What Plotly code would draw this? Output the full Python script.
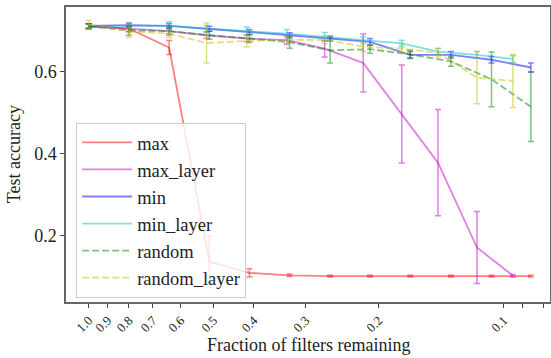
import plotly.graph_objects as go

# Fractions of filters remaining (x positions)
x_regular = [1.0, 0.8, 0.64, 0.512, 0.41, 0.328, 0.262, 0.21, 0.168, 0.134, 0.107, 0.086]
x_layer = [1.0, 0.8, 0.64, 0.52, 0.416, 0.333, 0.27, 0.218, 0.176, 0.144, 0.116, 0.095]

max_acc = [0.712, 0.706, 0.66, 0.135, 0.108, 0.102, 0.100, 0.100, 0.100, 0.100, 0.100, 0.100]
max_err = [0.006, 0.008, 0.017, 0.063, 0.010, 0.003, 0.002, 0.002, 0.002, 0.002, 0.002, 0.002]

max_layer_acc = [0.712, 0.706, 0.700, 0.690, 0.682, 0.678, 0.657, 0.622, 0.497, 0.378, 0.170, 0.101]
max_layer_err = [0.006, 0.006, 0.006, 0.008, 0.008, 0.010, 0.020, 0.071, 0.120, 0.130, 0.088, 0.003]

min_acc = [0.713, 0.715, 0.713, 0.706, 0.698, 0.690, 0.682, 0.674, 0.642, 0.642, 0.630, 0.611]
min_err = [0.005, 0.005, 0.005, 0.006, 0.006, 0.006, 0.006, 0.008, 0.008, 0.008, 0.008, 0.011]

min_layer_acc = [0.713, 0.713, 0.713, 0.706, 0.700, 0.694, 0.686, 0.678, 0.670, 0.650, 0.642, 0.632]
min_layer_err = [0.005, 0.006, 0.010, 0.008, 0.010, 0.010, 0.011, 0.008, 0.008, 0.008, 0.008, 0.008]

random_acc = [0.712, 0.702, 0.700, 0.690, 0.682, 0.673, 0.653, 0.656, 0.643, 0.626, 0.582, 0.515]
random_err = [0.006, 0.012, 0.010, 0.010, 0.010, 0.015, 0.031, 0.010, 0.010, 0.012, 0.067, 0.085]

random_layer_acc = [0.716, 0.700, 0.694, 0.671, 0.676, 0.679, 0.679, 0.662, 0.657, 0.647, 0.586, 0.578]
random_layer_err = [0.010, 0.015, 0.010, 0.049, 0.014, 0.010, 0.010, 0.012, 0.010, 0.010, 0.064, 0.065]

x_tickvals = [1.0, 0.9, 0.8, 0.7, 0.6, 0.5, 0.4, 0.3, 0.2, 0.1, 0.09, 0.08]
x_ticktext = ["1.0", "0.9", "0.8", "0.7", "0.6", "0.5", "0.4", "0.3", "0.2", "0.1", "", ""]
y_tickvals = [0.2, 0.4, 0.6]
y_ticktext = ["0.2", "0.4", "0.6"]

series = [
    ("max", x_regular, max_acc, max_err, "rgba(255,0,0,0.5)", "solid"),
    ("max_layer", x_layer, max_layer_acc, max_layer_err, "rgba(191,0,191,0.5)", "solid"),
    ("min", x_regular, min_acc, min_err, "rgba(0,0,255,0.5)", "solid"),
    ("min_layer", x_layer, min_layer_acc, min_layer_err, "rgba(0,191,191,0.5)", "solid"),
    ("random", x_regular, random_acc, random_err, "rgba(0,128,0,0.5)", "7px,3px"),
    ("random_layer", x_layer, random_layer_acc, random_layer_err, "rgba(191,191,0,0.5)", "7px,3px"),
]

fig = go.Figure()
for name, xs, ys, es, col, dash in series:
    fig.add_trace(go.Scatter(
        x=xs, y=ys, name=name, mode="lines",
        line=dict(color=col, width=1.8, dash=dash),
        error_y=dict(type="data", array=es, visible=True, color=col, thickness=1.5, width=3),
    ))

font_family = "Liberation Serif, Times New Roman, serif"
fig.update_layout(
    width=551, height=358,
    margin=dict(l=66, r=1, t=7, b=56, autoexpand=False),
    plot_bgcolor="white", paper_bgcolor="white",
    font=dict(family=font_family, size=18, color="#222"),
    showlegend=True,
    legend=dict(
        x=0.021, y=0.014, xanchor="left", yanchor="bottom",
        bgcolor="rgba(255,255,255,0.8)", bordercolor="#cccccc", borderwidth=1,
        font=dict(family=font_family, size=18.5, color="#222"),
        tracegroupgap=0, itemwidth=50,
    ),
    annotations=[
        dict(text="Fraction of filters remaining", xref="paper", yref="paper",
             x=0.5, y=-0.145, xanchor="center", yanchor="middle", showarrow=False,
             font=dict(family=font_family, size=18, color="#222")),
        dict(text="Test accuracy", xref="paper", yref="paper",
             x=-0.108, y=0.5, xanchor="center", yanchor="middle", showarrow=False, textangle=-90,
             font=dict(family=font_family, size=18, color="#222")),
    ],
)
fig.update_xaxes(
    type="log", range=[0.0547, -1.1116], automargin=False,
    tickvals=x_tickvals, ticktext=x_ticktext, tickangle=-45,
    tickfont=dict(size=13),
    ticks="outside", ticklen=4, tickcolor="#444",
    showline=True, linecolor="#666", linewidth=1.5, mirror=True,
    showgrid=False, zeroline=False,
)
fig.update_yaxes(
    range=[0.0366, 0.7592], automargin=False,
    tickvals=y_tickvals, ticktext=y_ticktext,
    tickfont=dict(size=18),
    ticks="outside", ticklen=4, tickcolor="#444",
    showline=True, linecolor="#666", linewidth=1.5, mirror=True,
    showgrid=False, zeroline=False,
)

fig.write_html("out.html", config={"displayModeBar": False},
               post_script="document.body.style.margin='0';document.body.style.overflow='hidden';")
